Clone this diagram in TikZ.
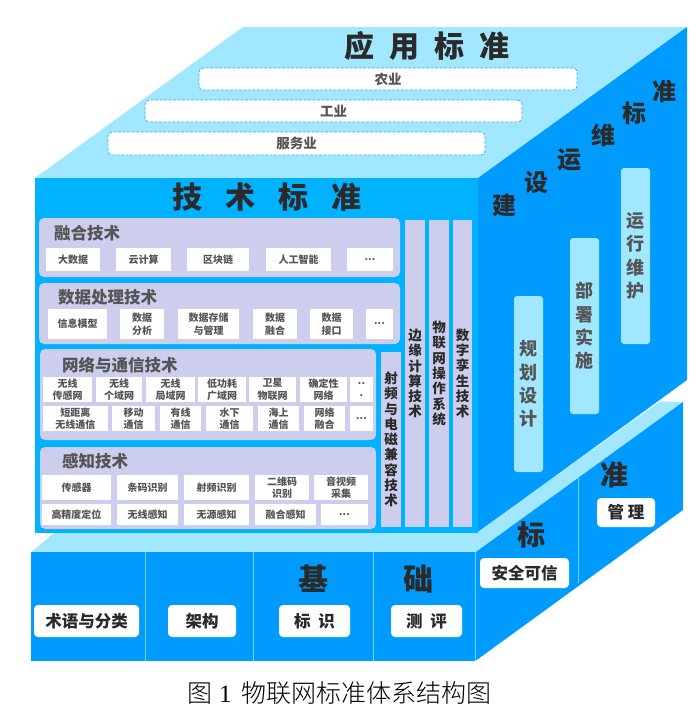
\documentclass[tikz,border=0pt]{standalone}
\usepackage{fontspec}
\setmainfont{Noto Sans CJK SC}
\newfontfamily\capfont{Noto Sans CJK SC Light}
\newfontfamily\digitfont{Liberation Serif}
\definecolor{lightface}{HTML}{A0E7FF}
\definecolor{frontface}{HTML}{00B2FF}
\definecolor{sideface}{HTML}{009BFF}
\definecolor{panelcol}{HTML}{CDCDEE}
\definecolor{inkcol}{HTML}{2A2A2A}
\definecolor{softink}{HTML}{555555}
\newcommand{\fs}[2]{\fontsize{#1}{#2}\selectfont}
\tikzset{
  panel/.style={fill=panelcol,draw=none,rounded corners=5pt,inner sep=0pt},
  bar/.style={fill=panelcol,draw=none,inner sep=0pt,text=inkcol,align=center,font=\fs{13.5}{15.3}\bfseries},
  item/.style={fill=white,draw=none,inner sep=0pt,text=softink,align=center,font=\fs{10}{12.5}\bfseries},
  basebox/.style={fill=white,draw=none,rounded corners=4pt,inner sep=0pt,text=inkcol,font=\fs{16.5}{18}\bfseries},
  appbox/.style={fill=white,draw=sideface!80,dash pattern=on 3pt off 1.5pt,line width=0.8pt,rounded corners=4pt,inner sep=0pt,text=softink,font=\fs{13.5}{15}\bfseries},
  opsbox/.style={fill=lightface,draw=none,rounded corners=3pt,inner sep=0pt,text=softink,align=center,font=\fs{18}{23.3}\bfseries},
  bigchar/.style={text=inkcol,inner sep=0pt,font=\fs{30}{32}\bfseries},
  midchar/.style={text=inkcol,inner sep=0pt,font=\fs{24}{26}\bfseries},
  paneltitle/.style={text=softink,inner sep=0pt,anchor=west,font=\fs{16.5}{18}\bfseries},
  divider/.style={draw=lightface!70!sideface,line width=0.5pt},
}
% #1 style, #2 name, #3 x1, #4 y1, #5 x2, #6 y2, #7 text
\newcommand{\bx}[7]{\node[#1,minimum width={(#5-#3)*1pt},minimum height={(#6-#4)*1pt}] (#2) at ({(#3+#5)/2},{(#4+#6)/2}) {#7};}
\begin{document}
\begin{tikzpicture}[x=1pt,y=-1pt]
\useasboundingbox (0,0) rectangle (700,716);
% faces
\fill[lightface] (243,27) -- (687,27) -- (478,178) -- (35,178) -- cycle;
\fill[sideface] (687,27) -- (687,380) -- (477,533) -- (478,178) -- cycle;
\fill[lightface] (55,532) -- (477,532.5) -- (660,401.5) -- (683,402) -- (476,552.5) -- (31,552.5) -- cycle;
\fill[frontface] (35,178) rectangle (478,533);
\fill[sideface] (31,552) rectangle (476,660.5);
\fill[sideface] (476,552) -- (683,402) -- (683,510) -- (476,660.5) -- cycle;
% top
\node[bigchar] (apptitle) at (427,46) {应\hspace{15pt}用\hspace{15pt}标\hspace{15pt}准};
\bx{appbox}{agri}{199}{68}{577}{90}{农业}
\bx{appbox}{indu}{145}{100}{522}{122}{工业}
\bx{appbox}{serv}{108}{132}{485}{155}{服务业}
% technology
\node[bigchar] (techtitle) at (267,197) {技\hspace{23pt}术\hspace{23pt}标\hspace{23pt}准};
\bx{panel}{pfuse}{39}{218}{400}{277}{}
\bx{panel}{pdata}{39}{283}{400}{344}{}
\bx{panel}{pnet}{40}{349}{376}{440}{}
\bx{panel}{psense}{40}{447}{376}{529}{}
\node[paneltitle] (tfuse) at (54,233) {融合技术};
\node[paneltitle] (tdata) at (58,297) {数据处理技术};
\node[paneltitle] (tnet) at (62,365) {网络与通信技术};
\node[paneltitle] (tsense) at (62,461) {感知技术};
% fusion
\bx{item}{f1}{46}{248}{100}{271}{大数据}
\bx{item}{f2}{116}{248}{171}{271}{云计算}
\bx{item}{f3}{187}{248}{249}{271}{区块链}
\bx{item}{f4}{266}{248}{331}{271}{人工智能}
\bx{item}{f5}{347}{248}{393}{271}{...}
% data
\bx{item}{d1}{48}{309}{107}{339}{信息模型}
\bx{item}{d2}{120}{309}{164}{339}{数据\\分析}
\bx{item}{d3}{178}{309}{239}{339}{数据存储\\与管理}
\bx{item}{d4}{253}{309}{297}{339}{数据\\融合}
\bx{item}{d5}{310}{309}{353}{339}{数据\\接口}
\bx{item}{d6}{366}{309}{393}{339}{...}
% network
\bx{item}{n1}{43}{377}{92}{402}{无线\\传感网}
\bx{item}{n2}{96}{377}{142}{402}{无线\\个域网}
\bx{item}{n3}{146}{377}{195}{402}{无线\\局域网}
\bx{item}{n4}{198}{377}{246}{402}{低功耗\\广域网}
\bx{item}{n5}{249}{377}{296}{402}{卫星\\物联网}
\bx{item}{n6}{300}{377}{347}{402}{确定性\\网络}
\bx{item}{n7}{350}{377}{373}{402}{..\\.}
\bx{item}{m1}{43}{406}{108}{431}{短距离\\无线通信}
\bx{item}{m2}{112}{406}{155}{431}{移动\\通信}
\bx{item}{m3}{160}{406}{201}{431}{有线\\通信}
\bx{item}{m4}{206}{406}{253}{431}{水下\\通信}
\bx{item}{m5}{258}{406}{299}{431}{海上\\通信}
\bx{item}{m6}{304}{406}{345}{431}{网络\\融合}
\bx{item}{m7}{350}{406}{373}{431}{...}
% sensing
\bx{item}{s1}{42}{475}{111}{500}{传感器}
\bx{item}{s2}{117}{475}{178}{500}{条码识别}
\bx{item}{s3}{184}{475}{249}{500}{射频识别}
\bx{item}{s4}{255}{475}{309}{500}{二维码\\识别}
\bx{item}{s5}{314}{475}{368}{500}{音视频\\采集}
\bx{item}{r1}{42}{504}{111}{525}{高精度定位}
\bx{item}{r2}{117}{504}{178}{525}{无线感知}
\bx{item}{r3}{184}{504}{249}{525}{无源感知}
\bx{item}{r4}{255}{504}{316}{525}{融合感知}
\bx{item}{r5}{321}{504}{368}{525}{...}
% vertical bars
\bx{bar}{v1}{381}{352}{401}{527}{射\\频\\与\\电\\磁\\兼\\容\\技\\术}
\bx{bar}{v2}{405}{220}{425}{527}{边\\缘\\计\\算\\技\\术}
\bx{bar}{v3}{429}{220}{449}{527}{物\\联\\网\\操\\作\\系\\统}
\bx{bar}{v4}{453}{220}{472}{527}{数\\字\\孪\\生\\技\\术}
% right face
\node[midchar] (c1) at (504,205) {建};
\node[midchar] (c2) at (536,182) {设};
\node[midchar] (c3) at (569,160) {运};
\node[midchar] (c4) at (603,135) {维};
\node[midchar] (c5) at (634,113) {标};
\node[midchar] (c6) at (664,91) {准};
\bx{opsbox}{o1}{514}{296}{543}{472}{规\\划\\设\\计}
\bx{opsbox}{o2}{570}{238}{599}{414}{部\\署\\实\\施}
\bx{opsbox}{o3}{621}{168}{650}{344}{运\\行\\维\\护}
% base
\coordinate (e1t) at (145,552); \coordinate (e1b) at (145,660.5);
\coordinate (e2t) at (253.5,552); \coordinate (e2b) at (253.5,660.5);
\coordinate (e3t) at (373,552); \coordinate (e3b) at (373,660.5);
\coordinate (e4t) at (578,477); \coordinate (e4b) at (578,583);
\coordinate (e5t) at (475.5,552); \coordinate (e5b) at (475.5,660.5);
\draw[divider] (e1t) -- (e1b);
\draw[divider] (e2t) -- (e2b);
\draw[divider] (e3t) -- (e3b);
\draw[divider] (e4t) -- (e4b);
\draw[divider] (e5t) -- (e5b);
\node[bigchar] (b1) at (313,579) {基};
\node[bigchar] (b2) at (418,579) {础};
\node[bigchar,font=\fs{28}{30}\bfseries] (b3) at (531,535) {标};
\node[bigchar,font=\fs{28}{30}\bfseries] (b4) at (614,475) {准};
\bx{basebox}{g1}{34}{605}{139}{637}{术语与分类}
\bx{basebox}{g2}{168}{605}{236}{637}{架构}
\bx{basebox}{g3}{279}{605}{350}{637}{标\hspace{8pt}识}
\bx{basebox}{g4}{391}{605}{462}{637}{测\hspace{8pt}评}
\bx{basebox}{g5}{480}{558}{569}{588}{安全可信}
\bx{basebox}{g6}{597}{498}{655}{527}{管\hspace{4pt}理}
% caption
\node[inner sep=0pt,text=black,anchor=west,font=\fs{25}{28}\capfont] (cap) at (187,693) {图\hspace{7pt}{\digitfont 1}\hspace{10pt}物联网标准体系结构图};
\end{tikzpicture}
\end{document}
